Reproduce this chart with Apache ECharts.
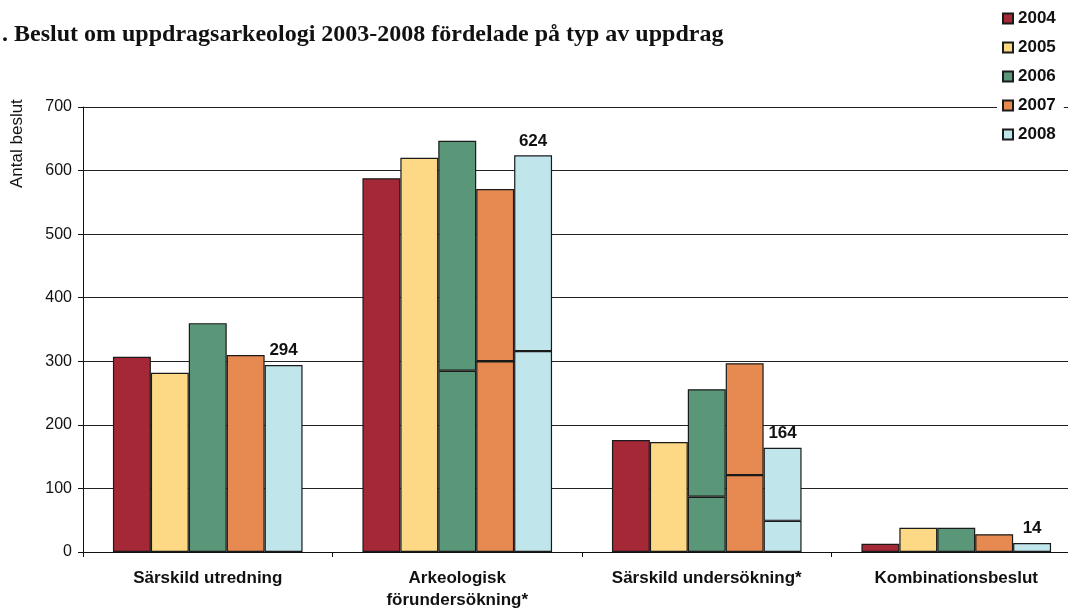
<!DOCTYPE html>
<html>
<head>
<meta charset="utf-8">
<script src="https://cdn.jsdelivr.net/npm/echarts@6/dist/echarts.min.js"></script>
<style>
  html, body { margin: 0; padding: 0; background: #fff; }
  #chart { width: 1068px; height: 610px; }
</style>
</head>
<body>
<div id="chart"></div>
<script>
const categories = ["Särskild utredning", "Arkeologisk\nförundersökning*", "Särskild undersökning*", "Kombinationsbeslut"];
const years = ["2004", "2005", "2006", "2007", "2008"];
const colors = ["#A52837", "#FDD985", "#5A9678", "#E68A52", "#C0E6EC"];

// totals per year
const y2004 = [307, 588, 176, 13];
const y2005 = [282, 620, 173, 38];
const y2006 = [360, 647, 256, 38];
const y2007 = [310, 571, 297, 28];
const y2008 = [294, 624, 164, 14];

// inner division line in some bars (lower part), null = no division
const split2006 = [null, 285, 87, null];
const split2007 = [null, 300, 121, null];
const split2008 = [null, 316, 49, null];

const yTicks = [0, 100, 200, 300, 400, 500, 600, 700];

const totals = [y2004, y2005, y2006, y2007, y2008];
const splits = [null, null, split2006, split2007, split2008];

const FONT = "Liberation Sans, Arial, sans-serif";

const barStyle = (c) => ({ color: c, borderColor: "#1a1a1a", borderWidth: 1.2 });

const valLabel = {
  show: true,
  position: "top",
  distance: 6,
  color: "#111",
  fontFamily: FONT,
  fontWeight: "bold",
  fontSize: 17
};

const series = [];
years.forEach((yr, i) => {
  const tot = totals[i];
  const sp = splits[i];
  const labelled = yr === "2008";
  const lower = tot.map((v, k) => {
    const hasSplit = sp && sp[k] != null;
    const item = { value: hasSplit ? sp[k] : v };
    if (labelled && !hasSplit) item.label = Object.assign({}, valLabel, { formatter: String(v) });
    return item;
  });
  series.push({
    name: yr,
    type: "bar",
    stack: "s" + yr,
    barGap: "0%",
    barCategoryGap: "24%",
    itemStyle: barStyle(colors[i]),
    data: lower
  });
  if (sp) {
    const upper = tot.map((v, k) => {
      if (sp[k] == null) return "-";
      const item = { value: v - sp[k] };
      if (labelled) item.label = Object.assign({}, valLabel, { formatter: String(v) });
      return item;
    });
    series.push({
      name: yr,
      type: "bar",
      stack: "s" + yr,
      barGap: "0%",
      barCategoryGap: "24%",
      itemStyle: barStyle(colors[i]),
      data: upper
    });
  }
});

const chart = echarts.init(document.getElementById("chart"));
chart.setOption({
  animation: false,
  backgroundColor: "#fff",
  title: {
    text: ". Beslut om uppdragsarkeologi 2003-2008 fördelade på typ av uppdrag",
    left: -3,
    top: 18,
    textStyle: {
      fontFamily: "Liberation Serif, Times New Roman, serif",
      fontWeight: "bold",
      fontSize: 24,
      color: "#111"
    }
  },
  legend: {
    data: years,
    orient: "vertical",
    left: 997,
    top: 5,
    padding: [5, 8, 5, 5],
    backgroundColor: "#fff",
    icon: "rect",
    itemWidth: 10,
    itemHeight: 10,
    itemGap: 12,
    textStyle: {
      fontFamily: FONT,
      fontWeight: "bold",
      fontSize: 17,
      color: "#111"
    }
  },
  graphic: [{
    type: "text",
    x: 9,
    y: 188,
    rotation: Math.PI / 2,
    style: {
      text: "Antal beslut",
      fontFamily: FONT,
      fontSize: 17,
      fill: "#111"
    }
  }],
  grid: { left: 83, width: 998, top: 107, bottom: 58, containLabel: false, outerBoundsMode: "none" },
  xAxis: {
    type: "category",
    data: categories,
    axisLine: { lineStyle: { color: "#111", width: 1 } },
    axisTick: { show: true, length: 5, lineStyle: { color: "#111" } },
    axisLabel: {
      margin: 15,
      interval: 0,
      lineHeight: 22,
      fontFamily: FONT,
      fontWeight: "bold",
      fontSize: 17,
      color: "#111"
    }
  },
  yAxis: {
    type: "value",
    min: yTicks[0],
    max: yTicks[yTicks.length - 1],
    interval: 100,
    axisLine: { show: true, lineStyle: { color: "#111", width: 1 } },
    axisTick: { show: true, length: 5, lineStyle: { color: "#111" } },
    axisLabel: {
      margin: 11,
      fontFamily: FONT,
      fontSize: 16,
      color: "#111"
    },
    splitLine: { show: true, lineStyle: { color: "#222", width: 1 } }
  },
  series: series
});
</script>
</body>
</html>
